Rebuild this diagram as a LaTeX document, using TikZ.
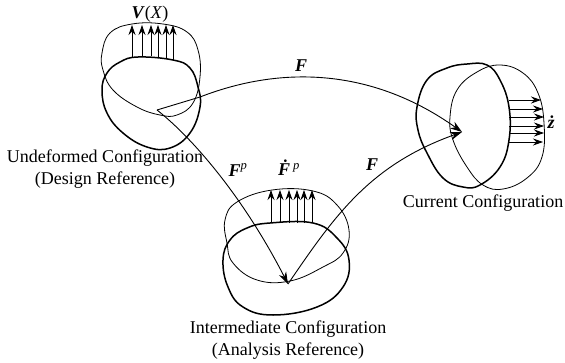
\documentclass[tikz,border=0pt]{standalone}
\usepackage{fontspec}
\setmainfont{Liberation Serif}
\usetikzlibrary{positioning,arrows.meta}
\tikzset{
  thinblob/.style={draw=black, line width=0.8pt},
  thickblob/.style={draw=black, line width=1.5pt},
  field/.style={-{Stealth[length=10pt,width=7pt]}, line width=0.8pt},
  map/.style={-{Stealth[length=12pt,width=8pt]}, line width=0.9pt},
  lbl/.style={font=\fontsize{18}{21.5}\selectfont, inner sep=0pt, align=center},
  sym/.style={font=\fontsize{18}{21.5}\selectfont\bfseries\itshape, inner sep=0pt}
}

\begin{document}
\begin{tikzpicture}[x=1pt, y=-1pt]
  \useasboundingbox (0,0) rectangle (565,362);

  % Undeformed blobs
  \draw[thinblob] plot[smooth cycle, tension=0.7] coordinates {(132,24) (163,24) (187,32) (198,50) (200,77) (193,103) (177,115) (160,115) (137,107) (113,90) (103,70) (102,53) (110,33)};
  \draw[thickblob] plot[smooth cycle, tension=0.7] coordinates {(138,57) (173,60) (190,68) (198,87) (200,107) (190,133) (170,148) (147,147) (123,133) (107,113) (102,90) (107,73) (120,62)};

  % Intermediate blobs
  \draw[thinblob] plot[smooth cycle, tension=0.7] coordinates {(272,190) (313,191) (337,205) (349,230) (343,253) (323,267) (290,281) (257,280) (233,263) (227,243) (225,220) (237,202)};
  \draw[thickblob] plot[smooth cycle, tension=0.7] coordinates {(270,223) (313,223) (337,238) (349,260) (343,287) (317,307) (273,315) (243,307) (228,287) (223,260) (230,240) (247,228)};

  % Current blobs
  \draw[thickblob] plot[smooth cycle, tension=0.7] coordinates {(467,64) (487,65) (500,80) (509,107) (509,140) (500,167) (480,185) (463,187) (443,178) (427,153) (418,130) (417,107) (427,80) (447,68)};
  \draw[thinblob] plot[smooth cycle, tension=0.7] coordinates {(500,65) (523,73) (538,93) (544,123) (542,157) (527,178) (503,189) (483,185) (467,167) (453,140) (450,117) (457,90) (477,72)};

  % Field arrows
  \foreach \x/\y in {132/57, 142/57, 151/56, 158/57, 166/59, 173/60}
    \draw[field] (\x,\y) -- (\x,25);
  \foreach \x in {271, 280, 289, 297, 304, 312}
    \draw[field] (\x,223) -- (\x,190);
  \foreach \y/\x in {100/541, 109/543, 117/544, 126/544, 133/544, 142/543}
    \draw[field] (509,\y) -- (\x,\y);

  % Mappings between configurations
  \coordinate (refpt) at (157,110);
  \coordinate (interpt) at (288,284);
  \coordinate (curpt) at (462,132);
  \draw[line width=0.9pt] (refpt) -- (200,97);
  \draw[map] (200,97) .. controls (285,64) and (375,70) .. (curpt);
  \draw[map] (refpt) .. controls (195,140) and (245,200) .. (interpt);
  \draw[map] (interpt) .. controls (335,215) and (370,165) .. (curpt);

  % Labels
  \node[sym] (vx) at (150,14) {V\textnormal{(}\textit{\mdseries X}\textnormal{)}};
  \node[sym] (ftop) at (301,66) {F};
  \node[sym] (fp) at (238,170) {F\textsuperscript{\mdseries\itshape p}};
  \node[sym] (fdot) at (289,168) {\.F\,\textsuperscript{\mdseries\itshape p}};
  \node[sym] (fright) at (372,165) {F};
  \node[sym] (zdot) at (551,122) {\.z};
  \node[lbl] (undef) at (105,169) {Undeformed Configuration\\(Design Reference)};
  \node[lbl] (inter) at (288,340) {Intermediate Configuration\\(Analysis Reference)};
  \node[lbl] (curr) at (483,203) {Current Configuration};
\end{tikzpicture}
\end{document}
